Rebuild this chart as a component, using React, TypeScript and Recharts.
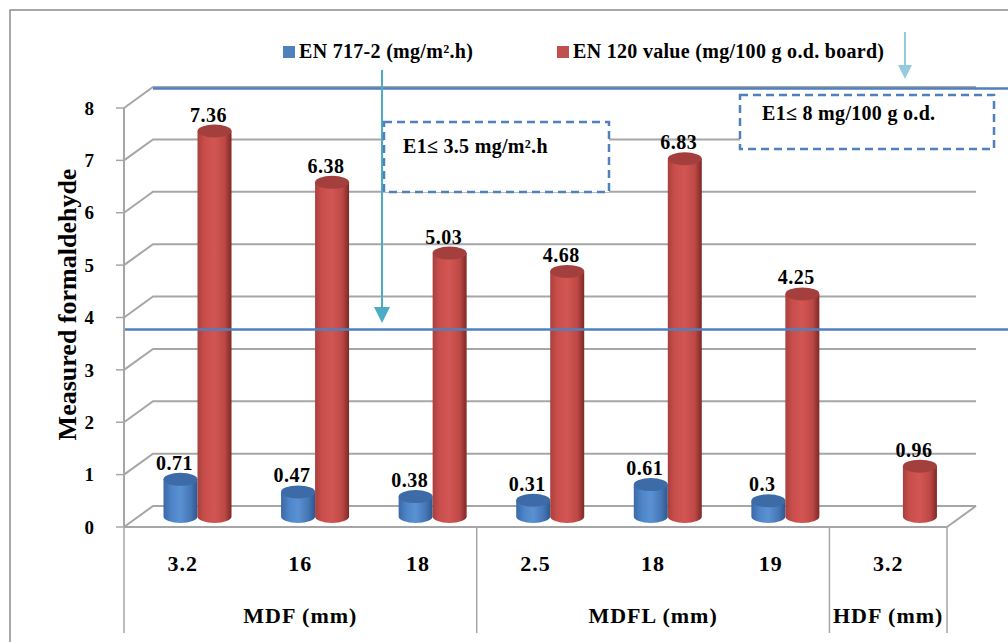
import React from 'react';
import {
  Bar,
  BarChart,
  CartesianGrid,
  LabelList,
  ReferenceLine,
  XAxis,
  YAxis,
} from 'recharts';

// thickness per board, grouped by board type
const CATEGORIES = ['3.2', '16', '18', '2.5', '18', '19', '3.2'];
const GROUP_LABELS = ['MDF (mm)', 'MDFL (mm)', 'HDF (mm)'];
const GROUP_SIZES = [3, 3, 1];

const EN717_VALUES = [0.71, 0.47, 0.38, 0.31, 0.61, 0.3, null];
const EN120_VALUES = [7.36, 6.38, 5.03, 4.68, 6.83, 4.25, 0.96];

const SERIES_NAMES = ['EN 717-2 (mg/m².h)', 'EN 120 value (mg/100 g o.d. board)'];
const SERIES_COLORS = ['#4f81bd', '#c0504d'];

const Y_TICKS = [0, 1, 2, 3, 4, 5, 6, 7, 8];

// limit lines
const LIMIT_EN120 = 8;
const LIMIT_EN717_LINE = 3.4;

const FONT = '"Liberation Serif", "Times New Roman", serif';
const GRID = '#a6a6a6';
const LIMIT_BLUE = '#4f81bd';

// fake 3D depth: back wall offset, bars sit half way
const DX = 29;
const DY = 21;
const MID_X = DX / 2;
const MID_Y = DY / 2;
const RY = 6.5;

const data = CATEGORIES.map((cat, i) => ({
  cat,
  en717: EN717_VALUES[i],
  en120: EN120_VALUES[i],
}));

function gridLine(p: any) {
  const { x1, x2, y1 } = p;
  const isFloor = y1 >= p.y + p.height - 0.5;
  return (
    <g key={p.key ?? `grid-${p.index}`}>
      <polyline
        points={`${x1},${y1} ${x1 + DX},${y1 - DY} ${x2 + DX},${y1 - DY}`}
        fill="none"
        stroke={GRID}
        strokeWidth={2}
      />
      {isFloor && (
        <line x1={x2} y1={y1} x2={x2 + DX} y2={y1 - DY} stroke={GRID} strokeWidth={2} />
      )}
    </g>
  );
}

function cylinder(key: 'en717' | 'en120', grad: string, topFill: string) {
  return (p: any) => {
    if (p.payload == null || p.payload[key] == null) return <g />;
    const { x, y, width, height } = p;
    const left = x + MID_X;
    const right = left + width;
    const cx = left + width / 2;
    const rx = width / 2;
    const top = y - MID_Y;
    const bottom = y + height - MID_Y;
    return (
      <g>
        <path
          d={`M${left},${top} L${left},${bottom} A${rx},${RY} 0 0 0 ${right},${bottom} L${right},${top} Z`}
          fill={`url(#${grad})`}
        />
        <ellipse cx={cx} cy={top} rx={rx} ry={RY} fill={topFill} />
      </g>
    );
  };
}

function valueLabel(p: any) {
  const { x, y, width, value } = p;
  if (value == null) return null;
  return (
    <text
      x={x + width / 2 + MID_X - 6}
      y={y - MID_Y - RY - 3}
      textAnchor="middle"
      fontFamily={FONT}
      fontWeight="bold"
      fontSize={20}
      letterSpacing={0.5}
      fill="#000"
    >
      {value}
    </text>
  );
}

function CategoryTick(p: any) {
  const { x, y, payload, index, width, visibleTicksCount } = p;
  const band = width / visibleTicksCount;
  let start = 0;
  let g = 0;
  while (index >= start + GROUP_SIZES[g]) {
    start += GROUP_SIZES[g];
    g++;
  }
  const pos = index - start;
  const size = GROUP_SIZES[g];
  const textProps = {
    textAnchor: 'middle' as const,
    fontFamily: FONT,
    fontWeight: 'bold',
    fontSize: 22,
    letterSpacing: 1,
    fill: '#000',
  };
  return (
    <g>
      <text x={x} y={y + 44} {...textProps}>
        {payload.value}
      </text>
      {pos === 0 && (
        <>
          <line x1={x - band / 2} x2={x - band / 2} y1={y} y2={y + 106} stroke={GRID} strokeWidth={1.5} />
          <text x={x + ((size - 1) / 2) * band} y={y + 96} {...textProps}>
            {GROUP_LABELS[g]}
          </text>
        </>
      )}
      {index === visibleTicksCount - 1 && (
        <line x1={x + band / 2} x2={x + band / 2} y1={y} y2={y + 106} stroke={GRID} strokeWidth={1.5} />
      )}
    </g>
  );
}

function yLabel({ viewBox }: any) {
  const { x, y, height } = viewBox;
  return (
    <text
      transform={`translate(${x + 3}, ${y + height / 2 - 13}) rotate(-90)`}
      textAnchor="middle"
      dominantBaseline="central"
      fontFamily={FONT}
      fontWeight="bold"
      fontSize={26}
      fill="#000"
    >
      Measured formaldehyde
    </text>
  );
}

function backWallLine(fromBack: boolean) {
  return (p: any) => {
    const { x1, y1 } = p;
    const yy = y1 - DY + 1.5;
    return (
      <line
        x1={fromBack ? x1 + DX : x1}
        y1={yy}
        x2={1008}
        y2={yy}
        stroke={LIMIT_BLUE}
        strokeWidth={2.5}
      />
    );
  };
}

function Overlay() {
  const legendText = {
    fontFamily: FONT,
    fontWeight: 'bold',
    fontSize: 20,
    letterSpacing: 0.3,
    fill: '#000',
  };
  const boxText = { ...legendText, fontSize: 20 };
  return (
    <svg
      width={1008}
      height={642}
      style={{ position: 'absolute', left: 0, top: 0, pointerEvents: 'none' }}
    >
      {/* chart frame, cut by the picture edge */}
      <polyline points="10,642 10,10 1008,10" fill="none" stroke="#8c8c8c" strokeWidth={1.5} />

      {/* legend */}
      <rect x={283} y={46} width={12} height={12} fill={SERIES_COLORS[0]} />
      <text x={299} y={58} {...legendText}>{SERIES_NAMES[0]}</text>
      <rect x={557} y={46} width={12} height={12} fill={SERIES_COLORS[1]} />
      <text x={573} y={58} {...legendText}>{SERIES_NAMES[1]}</text>

      {/* arrows to the limit lines */}
      <line x1={382} y1={70} x2={382} y2={309} stroke="#4bacc6" strokeWidth={2} />
      <polygon points="374,307 390,307 382,323" fill="#4bacc6" />
      <line x1={905} y1={32} x2={905} y2={67} stroke="#93cddd" strokeWidth={2} />
      <polygon points="898,65 912,65 905,79" fill="#93cddd" />

      {/* limit boxes */}
      <rect x={384} y={122} width={225} height={70} fill="#fff" stroke={LIMIT_BLUE} strokeWidth={2.5} strokeDasharray="8 5" />
      <text x={403} y={153} {...boxText}>E1≤ 3.5 mg/m².h</text>
      <rect x={740} y={95} width={254} height={54} fill="#fff" stroke={LIMIT_BLUE} strokeWidth={2.5} strokeDasharray="8 5" />
      <text x={762} y={120} {...boxText}>E1≤ 8 mg/100 g o.d.</text>
    </svg>
  );
}

export default function App() {
  return (
    <div style={{ position: 'absolute', left: 0, top: 0, width: 1008, height: 642, background: '#fff' }}>
      <svg width={0} height={0} style={{ position: 'absolute' }}>
        <defs>
          <linearGradient id="cylBlue" x1="0" y1="0" x2="1" y2="0">
            <stop offset="0%" stopColor="#3a69a6" />
            <stop offset="25%" stopColor="#4f86c9" />
            <stop offset="50%" stopColor="#5a91d3" />
            <stop offset="80%" stopColor="#4676b5" />
            <stop offset="100%" stopColor="#2c5890" />
          </linearGradient>
          <linearGradient id="cylRed" x1="0" y1="0" x2="1" y2="0">
            <stop offset="0%" stopColor="#a8403d" />
            <stop offset="20%" stopColor="#c94e4b" />
            <stop offset="50%" stopColor="#d25653" />
            <stop offset="80%" stopColor="#bd4845" />
            <stop offset="100%" stopColor="#7c2927" />
          </linearGradient>
        </defs>
      </svg>
      <BarChart
        width={1008}
        height={642}
        data={data}
        margin={{ top: 108, right: 61, bottom: 5, left: 64 }}
        barGap={0}
        barSize={34}
      >
        <CartesianGrid horizontal={gridLine} vertical={false} />
        <XAxis
          dataKey="cat"
          height={110}
          interval={0}
          tickLine={false}
          tickSize={0}
          tickMargin={0}
          axisLine={{ stroke: GRID, strokeWidth: 2 }}
          tick={<CategoryTick />}
        />
        <YAxis
          width={60}
          domain={[0, 8]}
          ticks={Y_TICKS}
          interval={0}
          tickSize={8}
          tickMargin={22}
          axisLine={{ stroke: GRID, strokeWidth: 2 }}
          tickLine={{ stroke: GRID, strokeWidth: 1.5 }}
          tick={{ fontFamily: FONT, fontWeight: 'bold', fontSize: 19, fill: '#000' }}
          label={yLabel}
        />
        <ReferenceLine y={LIMIT_EN120} ifOverflow="visible" shape={backWallLine(true)} />
        <ReferenceLine y={LIMIT_EN717_LINE} ifOverflow="visible" shape={backWallLine(false)} />
        <Bar
          dataKey="en717"
          name={SERIES_NAMES[0]}
          fill={SERIES_COLORS[0]}
          shape={cylinder('en717', 'cylBlue', '#3d6ba7')}
          isAnimationActive={false}
        >
          <LabelList dataKey="en717" content={valueLabel} />
        </Bar>
        <Bar
          dataKey="en120"
          name={SERIES_NAMES[1]}
          fill={SERIES_COLORS[1]}
          shape={cylinder('en120', 'cylRed', '#a33f3c')}
          isAnimationActive={false}
        >
          <LabelList dataKey="en120" content={valueLabel} />
        </Bar>
      </BarChart>
      <Overlay />
    </div>
  );
}
